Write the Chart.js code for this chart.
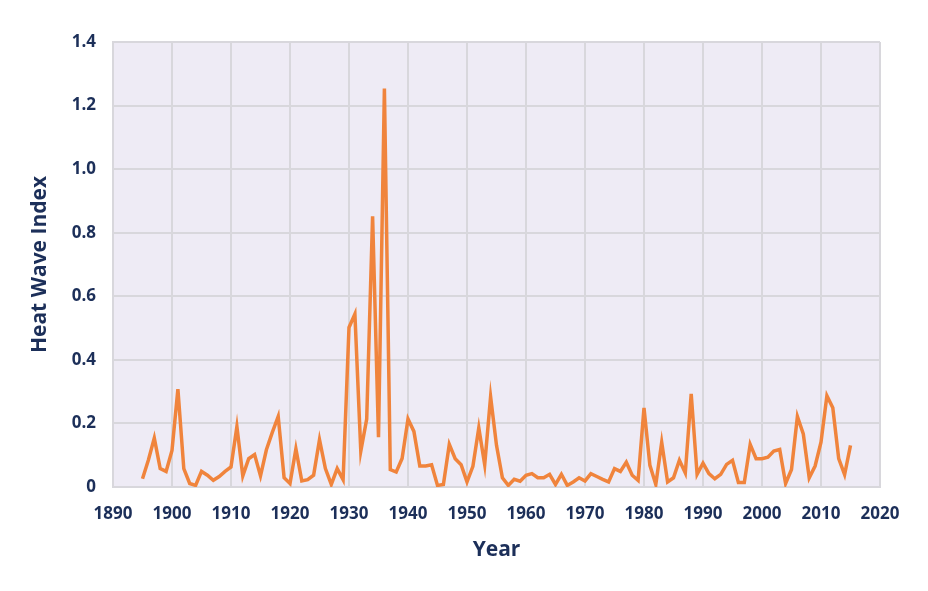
<!DOCTYPE html>
<html lang="en">
<head>
  <meta charset="UTF-8">
  <title>Heat Wave Index</title>
  <script src="https://cdn.jsdelivr.net/npm/chart.js"></script>
  <style>
    html, body {
      margin: 0;
      padding: 0;
      background: #fff;
    }
    #wrap {
      width: 928px;
      height: 591px;
    }
  </style>
</head>
<body>
  <div id="wrap"><canvas id="chart" width="928" height="591"></canvas></div>

  <script>
    // yearly heat wave index, 1895-2015
    const years = [];
    for (let y = 1895; y <= 2015; y++) years.push(y);

    const heatIndex = [
      0.026, 0.085, 0.154, 0.058, 0.049,                                   // 1895-1899
      0.115, 0.308, 0.058, 0.011, 0.005, 0.049, 0.037, 0.021, 0.033, 0.049, // 1900s
      0.063, 0.190, 0.035, 0.089, 0.102, 0.035, 0.117, 0.172, 0.222, 0.029, // 1910s
      0.011, 0.120, 0.019, 0.023, 0.037, 0.149, 0.058, 0.008, 0.058, 0.023, // 1920s
      0.502, 0.544, 0.113, 0.214, 0.852, 0.157, 1.254, 0.055, 0.047, 0.090, // 1930s
      0.214, 0.175, 0.066, 0.066, 0.070, 0.005, 0.008, 0.134, 0.089, 0.070, // 1940s
      0.016, 0.065, 0.186, 0.070, 0.284, 0.131, 0.029, 0.005, 0.024, 0.018, // 1950s
      0.037, 0.042, 0.029, 0.029, 0.040, 0.008, 0.040, 0.005, 0.016, 0.029, // 1960s
      0.019, 0.042, 0.033, 0.024, 0.016, 0.058, 0.049, 0.078, 0.037, 0.021, // 1970s
      0.249, 0.068, 0.008, 0.141, 0.016, 0.029, 0.084, 0.044, 0.293, 0.040, // 1980s
      0.075, 0.042, 0.026, 0.040, 0.071, 0.084, 0.014, 0.014, 0.134, 0.089, // 1990s
      0.089, 0.094, 0.113, 0.118, 0.011, 0.055, 0.222, 0.167, 0.029, 0.066, // 2000s
      0.141, 0.287, 0.249, 0.089, 0.039, 0.131                             // 2010-2015
    ];

    const xMin = 1890, xMax = 2020, xStep = 10;
    const yMin = 0, yMax = 1.4, yStep = 0.2;

    const navy = '#1c2f59';
    const gridColor = '#d8d7dc';

    // fill the plot area with the lavender background
    const plotBg = {
      id: 'plotBg',
      beforeDraw(chart) {
        const a = chart.chartArea;
        const c = chart.ctx;
        c.save();
        c.fillStyle = '#eeebf5';
        c.fillRect(a.left, a.top, a.right - a.left, a.bottom - a.top);
        c.restore();
      }
    };

    const ctx = document.getElementById('chart').getContext('2d');
    new Chart(ctx, {
      type: 'line',
      data: {
        datasets: [{
          label: 'Heat Wave Index',
          data: years.map((y, i) => ({ x: y, y: heatIndex[i] })),
          borderColor: '#f0843c',
          borderWidth: 3.5,
          pointRadius: 0,
          tension: 0,
          fill: false
        }]
      },
      options: {
        responsive: false,
        animation: false,
        layout: { padding: { left: 0, right: 48, top: 42, bottom: 0 } },
        plugins: {
          legend: { display: false },
          tooltip: { enabled: false }
        },
        scales: {
          x: {
            type: 'linear',
            min: xMin,
            max: xMax,
            ticks: {
              stepSize: xStep,
              color: navy,
              padding: 17,
              maxRotation: 0,
              font: { family: 'Open Sans', weight: 'bold', size: 17 },
              callback: v => String(v)
            },
            grid: { color: gridColor, lineWidth: 2, drawTicks: false },
            border: { color: gridColor, width: 2 },
            title: {
              display: true,
              text: 'Year',
              color: navy,
              font: { family: 'Open Sans', weight: 'bold', size: 21 },
              padding: { top: 0, bottom: 28 }
            },
            afterFit(scale) { scale.height = 104; }
          },
          y: {
            min: yMin,
            max: yMax,
            ticks: {
              stepSize: yStep,
              color: navy,
              padding: 17,
              font: { family: 'Open Sans', weight: 'bold', size: 17 },
              callback: v => v === 0 ? '0' : v.toFixed(1)
            },
            grid: { color: gridColor, lineWidth: 2, drawTicks: false },
            border: { color: gridColor, width: 2 },
            title: {
              display: true,
              text: 'Heat Wave Index',
              color: navy,
              font: { family: 'Open Sans', weight: 'bold', size: 21 },
              padding: { top: 27, bottom: 0 }
            },
            afterFit(scale) { scale.width = 113; }
          }
        }
      },
      plugins: [plotBg]
    });
  </script>
</body>
</html>
